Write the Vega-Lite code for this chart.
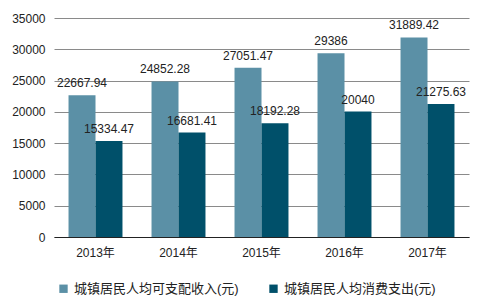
{
  "$schema": "https://vega.github.io/schema/vega-lite/v6.json",
  "autosize": {"type": "none"},
  "width": 415,
  "height": 219,
  "padding": {"left": 54, "top": 18, "right": 17, "bottom": 71},
  "background": "white",
  "config": {
    "font": "Liberation Sans, Noto Sans CJK SC, sans-serif",
    "view": {"stroke": null}
  },
  "data": {
    "values": [
      {"year": "2013年", "series": "城镇居民人均可支配收入(元)", "value": 22667.94, "label": "22667.94"},
      {"year": "2014年", "series": "城镇居民人均可支配收入(元)", "value": 24852.28, "label": "24852.28"},
      {"year": "2015年", "series": "城镇居民人均可支配收入(元)", "value": 27051.47, "label": "27051.47"},
      {"year": "2016年", "series": "城镇居民人均可支配收入(元)", "value": 29386, "label": "29386"},
      {"year": "2017年", "series": "城镇居民人均可支配收入(元)", "value": 31889.42, "label": "31889.42"},
      {"year": "2013年", "series": "城镇居民人均消费支出(元)", "value": 15334.47, "label": "15334.47"},
      {"year": "2014年", "series": "城镇居民人均消费支出(元)", "value": 16681.41, "label": "16681.41"},
      {"year": "2015年", "series": "城镇居民人均消费支出(元)", "value": 18192.28, "label": "18192.28"},
      {"year": "2016年", "series": "城镇居民人均消费支出(元)", "value": 20040, "label": "20040"},
      {"year": "2017年", "series": "城镇居民人均消费支出(元)", "value": 21275.63, "label": "21275.63"}
    ]
  },
  "encoding": {
    "x": {
      "field": "year", "type": "nominal",
      "scale": {"paddingInner": 0.35, "paddingOuter": 0.175},
      "axis": {
        "title": null, "labelAngle": 0, "labelFontSize": 12, "labelColor": "#222",
        "labelPadding": 10, "ticks": false, "domainColor": "#222", "domainWidth": 1.2
      }
    },
    "xOffset": {"field": "series", "type": "nominal", "sort": null},
    "y": {
      "field": "value", "type": "quantitative",
      "scale": {"domain": [0, 35000], "nice": false},
      "axis": {
        "title": null, "values": [0, 5000, 10000, 15000, 20000, 25000, 30000, 35000],
        "format": "d",
        "labelFontSize": 12, "labelColor": "#222", "labelPadding": 9, "ticks": false,
        "domain": false, "gridColor": "#8a8a8a", "gridWidth": 1
      }
    }
  },
  "layer": [
    {
      "mark": {"type": "bar"},
      "encoding": {
        "color": {
          "field": "series", "type": "nominal", "sort": null,
          "scale": {"range": ["#5b90a6", "#00506a"]},
          "legend": {
            "title": null, "orient": "none", "direction": "horizontal",
            "legendX": 3, "legendY": 264, "symbolType": "square", "symbolSize": 70,
            "labelFontSize": 13, "labelColor": "#222", "columnPadding": 28,
            "labelLimit": 300,
            "symbolStrokeWidth": 0, "labelOffset": 4
          }
        }
      }
    },
    {
      "mark": {"type": "text", "baseline": "bottom", "dy": -5, "fontSize": 12, "color": "#222"},
      "encoding": {"text": {"field": "label", "type": "nominal"}}
    }
  ]
}
